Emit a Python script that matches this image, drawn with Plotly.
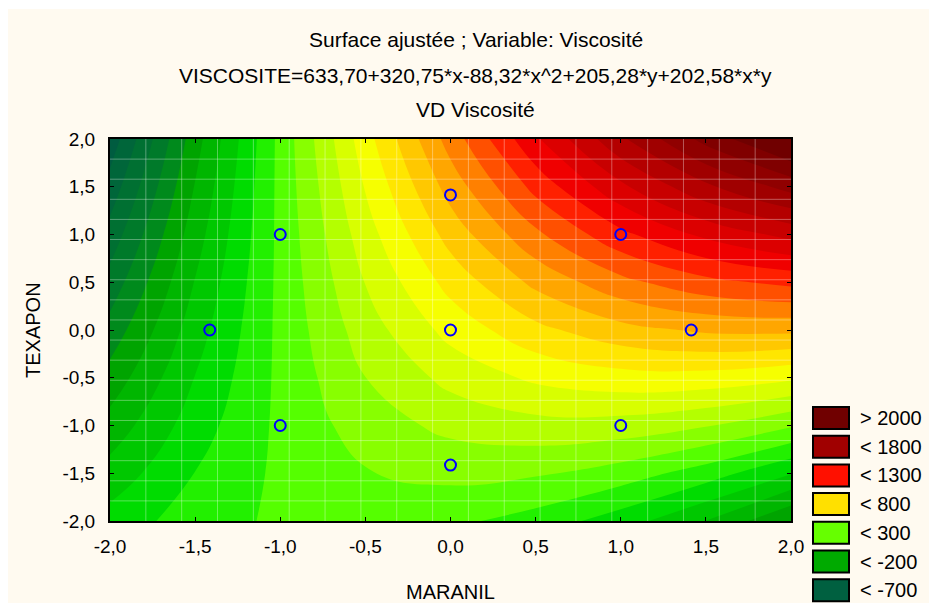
import plotly.graph_objects as go

# ---------------- data ----------------
maranil = [-2.0, -1.5, -1.0, -0.5, 0.0, 0.5, 1.0, 1.5, 2.0]
texapon = [-2.0, -1.5, -1.0, -0.5, 0.0, 0.5, 1.0, 1.5, 2.0]
# fitted viscosity surface values on the grid (rows: texapon, cols: maranil)
viscosite = [
    [39, 151, 219, 243, 223, 159, 50, -102, -299],
    [-61, 102, 221, 295, 326, 312, 254, 152, 6],
    [-161, 52, 222, 347, 428, 465, 458, 407, 311],
    [-261, 3, 223, 399, 531, 619, 662, 662, 617],
    [-361, -46, 225, 451, 634, 772, 866, 916, 922],
    [-461, -95, 226, 503, 736, 925, 1070, 1171, 1227],
    [-561, -145, 227, 555, 839, 1079, 1274, 1425, 1532],
    [-661, -194, 229, 607, 942, 1232, 1478, 1680, 1838],
    [-761, -243, 230, 659, 1044, 1385, 1682, 1934, 2143],
]
# experimental design points
pts_x = [0, -1, 1, -1, 1, -1.414, 1.414, 0, 0]
pts_y = [0, -1, -1, 1, 1, 0, 0, -1.414, 1.414]

tick_vals = [-2.0, -1.5, -1.0, -0.5, 0.0, 0.5, 1.0, 1.5, 2.0]
tick_text = ["-2,0", "-1,5", "-1,0", "-0,5", "0,0", "0,5", "1,0", "1,5", "2,0"]
legend_labels = ["> 2000", "< 1800", "< 1300", "< 800", "< 300", "< -200", "< -700"]
legend_colors = ["#700000", "#a00000", "#ff1000", "#ffe000", "#66ff00", "#00aa00", "#006040"]

# band colours: below -700, then every 100 up to 2000, then above 2000
band_colors = [
    "#005c40", "#00663a", "#007032", "#007a2a", "#008a1c", "#00a400",
    "#00b600", "#00c800", "#00dc00", "#22f000", "#55ff00", "#88ff00",
    "#b4ff00", "#d8ff00", "#f6ff00", "#ffe600", "#ffc800", "#ffa600",
    "#ff8000", "#ff5000", "#ff2000", "#f00000", "#dc0000", "#c80000",
    "#b40000", "#a00000", "#900000", "#800000", "#700000",
]

C_START, C_END, C_SIZE = -700, 2000, 100
ncont = int((C_END - C_START) / C_SIZE) + 1
colorscale = [[j / ncont, band_colors[j]] for j in range(len(band_colors))]

FONT = "Liberation Sans, Arial, sans-serif"

fig = go.Figure()
fig.add_trace(go.Contour(
    x=maranil, y=texapon, z=viscosite,
    autocontour=False,
    contours=dict(start=C_START, end=C_END, size=C_SIZE, coloring="fill", showlines=False),
    line=dict(width=0, smoothing=1.3),
    colorscale=colorscale, showscale=False, hoverinfo="skip",
))

# faint mesh grid
nstep = 19
gx, gy = [], []
for k in range(1, nstep):
    v = -2 + k * 4 / nstep
    gx += [v, v, None]
    gy += [-2, 2, None]
    gx += [-2, 2, None]
    gy += [v, v, None]
fig.add_trace(go.Scatter(x=gx, y=gy, mode="lines",
                         line=dict(color="rgba(255,255,255,0.35)", width=1),
                         hoverinfo="skip", showlegend=False))

fig.add_trace(go.Scatter(
    x=pts_x, y=pts_y, mode="markers",
    marker=dict(symbol="circle-open", size=11, color="#0000ff", line=dict(width=2, color="#0000ff")),
    showlegend=False, hoverinfo="skip",
))

L, R, T, B = 110, 138, 139, 82
W, H = 929, 603
PW, PH = W - L - R, H - T - B


def px(xp):
    return (xp - L) / PW


def py(yp):
    return (H - B - yp) / PH


axis_common = dict(
    range=[-2, 2], tickvals=tick_vals, ticktext=tick_text,
    ticks="inside", ticklen=4, tickwidth=1, tickcolor="black",
    showline=True, linecolor="black", linewidth=2, mirror="ticks",
    showgrid=False, zeroline=False,
    tickfont=dict(family=FONT, size=19, color="black"),
)
fig.update_xaxes(**axis_common, ticklabelstandoff=7)
fig.update_yaxes(**axis_common, ticklabelstandoff=9)

shapes = [dict(type="rect", xref="paper", yref="paper",
               x0=px(8), x1=px(W + 20), y0=py(H + 20), y1=py(9),
               fillcolor="#fffaf0", line=dict(width=0), layer="below")]
annotations = []
titles = [("Surface ajustée ; Variable: Viscosité", 40),
          ("VISCOSITE=633,70+320,75*x-88,32*x^2+205,28*y+202,58*x*y", 75),
          ("VD Viscosité", 110)]
for txt, yp in titles:
    annotations.append(dict(text=txt, x=px(476), y=py(yp), xref="paper", yref="paper",
                            showarrow=False, xanchor="center", yanchor="middle",
                            font=dict(family=FONT, size=21, color="black")))
annotations.append(dict(text="MARANIL", x=px(450), y=py(592), xref="paper", yref="paper",
                        showarrow=False, xanchor="center", yanchor="middle",
                        font=dict(family=FONT, size=20, color="black")))
annotations.append(dict(text="TEXAPON", x=px(33), y=py(330), xref="paper", yref="paper",
                        showarrow=False, xanchor="center", yanchor="middle", textangle=-90,
                        font=dict(family=FONT, size=20, color="black")))

for i, (lab, col) in enumerate(zip(legend_labels, legend_colors)):
    cy = 418 + i * 28.7
    shapes.append(dict(type="rect", xref="paper", yref="paper",
                       x0=px(813), x1=px(849), y0=py(cy + 11), y1=py(cy - 11),
                       fillcolor=col, line=dict(color="black", width=2)))
    annotations.append(dict(text=lab, x=px(858), y=py(cy), xref="paper", yref="paper",
                            showarrow=False, xanchor="left", yanchor="middle",
                            font=dict(family=FONT, size=20, color="black")))

fig.update_layout(
    width=W, height=H,
    margin=dict(l=L, r=R, t=T, b=B),
    paper_bgcolor="white", plot_bgcolor="rgba(0,0,0,0)",
    showlegend=False,
    shapes=shapes, annotations=annotations,
)

fig.write_html("out.html")
